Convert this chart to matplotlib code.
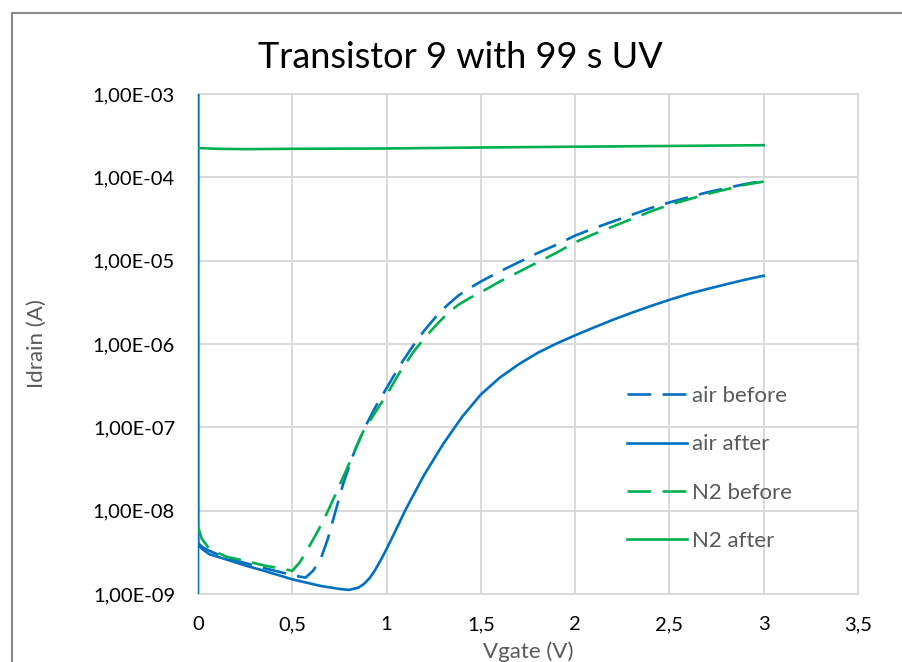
import matplotlib.pyplot as plt
from matplotlib.patches import Rectangle
from matplotlib.ticker import FixedLocator, FixedFormatter, NullLocator

plt.rcParams['font.family'] = ['Lato', 'DejaVu Sans']

# Transfer curves, Vgate (V) vs Idrain (A)
air_before_v = [0, 0.02, 0.06, 0.15, 0.25, 0.35, 0.45, 0.52, 0.57, 0.61, 0.65, 0.69, 0.73, 0.77,
                0.82, 0.88, 0.94, 1.0, 1.07, 1.14, 1.2, 1.26, 1.32, 1.38, 1.44, 1.5, 1.6, 1.7,
                1.8, 1.9, 2.0, 2.1, 2.2, 2.3, 2.4, 2.5, 2.6, 2.7, 2.8, 2.9, 3.0]
air_before_i = [4.1e-9, 3.7e-9, 3.3e-9, 2.7e-9, 2.35e-9, 2.05e-9, 1.8e-9, 1.65e-9, 1.57e-9, 1.9e-9,
                2.6e-9, 4.7e-9, 1e-8, 2.1e-8, 4.5e-8, 9.5e-8, 1.74e-7, 2.95e-7, 5.5e-7, 9.5e-7,
                1.45e-6, 2.1e-6, 2.9e-6, 3.8e-6, 4.68e-6, 5.62e-6, 7.41e-6, 9.55e-6, 1.23e-5,
                1.55e-5, 2.0e-5, 2.45e-5, 2.95e-5, 3.55e-5, 4.27e-5, 5.0e-5, 5.75e-5, 6.6e-5,
                7.4e-5, 8.3e-5, 9.1e-5]

air_after_v = [0, 0, 0, 0.02, 0.06, 0.15, 0.25, 0.35, 0.5, 0.65, 0.75, 0.8, 0.85, 0.88, 0.91, 0.94,
               0.97, 1.0, 1.05, 1.1, 1.2, 1.3, 1.4, 1.5, 1.6, 1.7, 1.8, 1.9, 2.0, 2.1, 2.2, 2.3,
               2.4, 2.5, 2.6, 2.7, 2.8, 2.9, 3.0]
air_after_i = [1e-10, 1e-2, 4e-9, 3.5e-9, 3.0e-9, 2.6e-9, 2.2e-9, 1.9e-9, 1.5e-9, 1.25e-9, 1.15e-9,
               1.12e-9, 1.19e-9, 1.32e-9, 1.55e-9, 1.95e-9, 2.57e-9, 3.47e-9, 5.9e-9, 1.02e-8,
               2.7e-8, 6.3e-8, 1.33e-7, 2.48e-7, 3.94e-7, 5.7e-7, 7.8e-7, 1.01e-6, 1.27e-6,
               1.58e-6, 1.95e-6, 2.37e-6, 2.85e-6, 3.39e-6, 3.98e-6, 4.57e-6, 5.2e-6, 5.9e-6, 6.6e-6]

n2_before_v = [0, 0.02, 0.06, 0.15, 0.25, 0.35, 0.45, 0.5, 0.54, 0.58, 0.63, 0.67, 0.71, 0.75, 0.8,
               0.84, 0.88, 0.94, 1.0, 1.07, 1.14, 1.2, 1.26, 1.32, 1.38, 1.44, 1.5, 1.6, 1.7, 1.8,
               1.9, 2.0, 2.1, 2.2, 2.3, 2.4, 2.5, 2.6, 2.7, 2.8, 2.9, 3.0]
n2_before_i = [6.4e-9, 4.6e-9, 3.5e-9, 2.8e-9, 2.5e-9, 2.2e-9, 2.0e-9, 1.9e-9, 2.4e-9, 3.4e-9,
               5.4e-9, 8e-9, 1.26e-8, 2.0e-8, 3.6e-8, 5.9e-8, 9.3e-8, 1.51e-7, 2.45e-7, 4.57e-7,
               7.9e-7, 1.17e-6, 1.66e-6, 2.29e-6, 2.95e-6, 3.55e-6, 4.17e-6, 5.62e-6, 7.3e-6,
               9.55e-6, 1.24e-5, 1.66e-5, 2.09e-5, 2.57e-5, 3.16e-5, 3.89e-5, 4.68e-5, 5.43e-5,
               6.31e-5, 7.16e-5, 8.13e-5, 8.9e-5]

n2_after_v = [0, 0.1, 0.25, 0.5, 1.0, 1.5, 2.0, 2.5, 3.0]
n2_after_i = [2.25e-4, 2.2e-4, 2.18e-4, 2.2e-4, 2.22e-4, 2.28e-4, 2.33e-4, 2.38e-4, 2.43e-4]

x_ticks = [0, 0.5, 1, 1.5, 2, 2.5, 3, 3.5]
x_tick_labels = ['0', '0,5', '1', '1,5', '2', '2,5', '3', '3,5']
y_ticks = [1e-9, 1e-8, 1e-7, 1e-6, 1e-5, 1e-4, 1e-3]
y_tick_labels = ['1,00E-09', '1,00E-08', '1,00E-07', '1,00E-06', '1,00E-05', '1,00E-04', '1,00E-03']

blue = '#0070C0'
green = '#00B050'
grid = '#D9D9D9'

fig = plt.figure(figsize=(9.02, 6.62), dpi=100)
ax = fig.add_axes([198 / 902, 1 - 594 / 662, 660 / 902, 500 / 662])

dash = (0, (9, 4.3))
ax.plot(air_before_v, air_before_i, color=blue, lw=1.9, linestyle=dash, label='air before', zorder=3)
ax.plot(air_after_v, air_after_i, color=blue, lw=1.9, label='air after', zorder=3)
ax.plot(n2_before_v, n2_before_i, color=green, lw=1.9, linestyle=dash, label='N2 before', zorder=3)
ax.plot(n2_after_v, n2_after_i, color=green, lw=1.9, label='N2 after', zorder=3)

ax.set_yscale('log')
ax.set_xlim(0, 3.5)
ax.set_ylim(1e-9, 1e-3)
ax.xaxis.set_major_locator(FixedLocator(x_ticks))
ax.xaxis.set_major_formatter(FixedFormatter(x_tick_labels))
ax.yaxis.set_major_locator(FixedLocator(y_ticks))
ax.yaxis.set_major_formatter(FixedFormatter(y_tick_labels))
ax.yaxis.set_minor_locator(NullLocator())
ax.tick_params(length=0, labelsize=14.5, colors='#000000')
ax.tick_params(axis='x', pad=16)
ax.tick_params(axis='y', pad=16.5)
ax.grid(True, color=grid, lw=1.4)
ax.set_axisbelow(True)
for s in ax.spines.values():
    s.set_color(grid)
    s.set_linewidth(1.4)

fig.text(460 / 902, 1 - 57 / 662, 'Transistor 9 with 99 s UV', fontsize=26,
         ha='center', va='center')
ax.set_xlabel('Vgate (V)', fontsize=16, color='#595959', labelpad=6)
ax.set_ylabel('Idrain (A)', fontsize=16, color='#595959', labelpad=33)

leg = ax.legend(loc='center left', bbox_to_anchor=(627 / 902, 1 - 468.5 / 662),
                bbox_transform=fig.transFigure, frameon=False, fontsize=16,
                handlelength=2.7, handletextpad=0.22, labelspacing=1.27,
                borderpad=0, borderaxespad=0)
for t in leg.get_texts():
    t.set_color('#595959')

# outer chart border
fig.patches.append(Rectangle((12 / 902, -0.1), 1.2, 1.1 - 13 / 662, transform=fig.transFigure,
                             fill=False, edgecolor='#898989', lw=1.5))

fig.savefig('out.png', dpi=100)
